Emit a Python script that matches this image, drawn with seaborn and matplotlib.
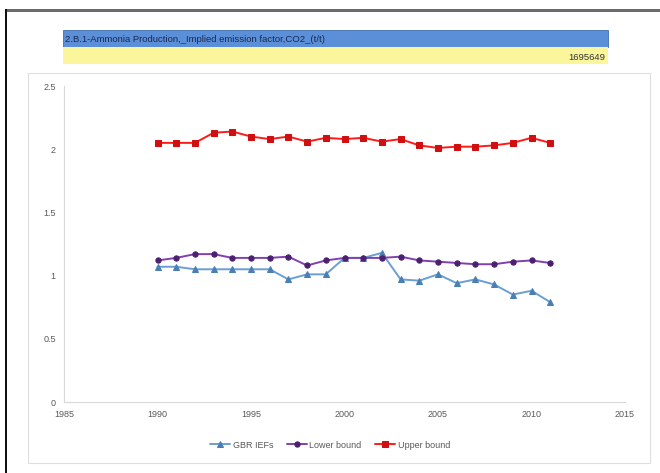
import matplotlib
matplotlib.use("Agg")
import matplotlib.pyplot as plt
from matplotlib.patches import Rectangle
import seaborn as sns
import pandas as pd

years = list(range(1990, 2012))
gbr_iefs = [1.07, 1.07, 1.05, 1.05, 1.05, 1.05, 1.05, 0.97, 1.01, 1.01, 1.14,
            1.14, 1.18, 0.97, 0.96, 1.01, 0.94, 0.97, 0.93, 0.85, 0.88, 0.79]
lower_bound = [1.12, 1.14, 1.17, 1.17, 1.14, 1.14, 1.14, 1.15, 1.08, 1.12, 1.14,
               1.14, 1.14, 1.15, 1.12, 1.11, 1.10, 1.09, 1.09, 1.11, 1.12, 1.10]
upper_bound = [2.05, 2.05, 2.05, 2.13, 2.14, 2.10, 2.08, 2.10, 2.06, 2.09, 2.08,
               2.09, 2.06, 2.08, 2.03, 2.01, 2.02, 2.02, 2.03, 2.05, 2.09, 2.05]
series_names = ["GBR IEFs", "Lower bound", "Upper bound"]
x_ticks = [1985, 1990, 1995, 2000, 2005, 2010, 2015]
y_ticks = [0, 0.5, 1, 1.5, 2, 2.5]
y_tick_labels = ["0", "0.5", "1", "1.5", "2", "2.5"]
header_title = "2.B.1-Ammonia Production,_Implied emission factor,CO2_(t/t)"
header_value = "1695649"

df = pd.DataFrame({
    "year": years * 3,
    "value": gbr_iefs + lower_bound + upper_bound,
    "series": [series_names[0]] * len(years) + [series_names[1]] * len(years)
              + [series_names[2]] * len(years),
})

sns.set_theme(style="white")
plt.rcParams["font.family"] = ["Liberation Sans", "DejaVu Sans"]

W, H = 660, 473
fig = plt.figure(figsize=(W / 100, H / 100), dpi=100)
fig.patch.set_facecolor("white")


def px_rect(x0, y0, x1, y1, **kw):
    fig.patches.append(Rectangle((x0 / W, 1 - y1 / H), (x1 - x0) / W, (y1 - y0) / H,
                                 transform=fig.transFigure, figure=fig, **kw))


# window frame
px_rect(5, 9, W, 12, facecolor="#6b6b6b", edgecolor="none")
px_rect(5, 9, 7, H, facecolor="#111111", edgecolor="none")
# chart area border
px_rect(28, 73, 650, 463, facecolor="none", edgecolor="#dedede", linewidth=0.8)
# header cells
px_rect(63, 30, 608, 47, facecolor="#5b8fd8", edgecolor="#3f6fb0", linewidth=0.6)
px_rect(63, 47, 608, 64, facecolor="#fbf59c", edgecolor="none")
fig.text(65 / W, 1 - 39 / H, header_title, fontsize=6.8, color="#1a2a50",
         va="center", ha="left")
fig.text(605 / W, 1 - 57 / H, header_value, fontsize=6.8, color="#333333",
         va="center", ha="right")

ax = fig.add_axes([64 / W, 1 - 402 / H, (625 - 64) / W, (402 - 86) / H])

palette = {"GBR IEFs": "#6b9fd4", "Lower bound": "#8040b0", "Upper bound": "#ff1a1a"}
markers = {"GBR IEFs": "^", "Lower bound": "o", "Upper bound": "s"}
sns.lineplot(data=df, x="year", y="value", hue="series", style="series",
             palette=palette, markers=markers, dashes=False, linewidth=1.4,
             markersize=3.8, ax=ax)
mec = {"GBR IEFs": "#4a7fb5", "Lower bound": "#4a2070", "Upper bound": "#d01010"}
for line, name in zip(ax.get_lines(), series_names):
    line.set_markeredgecolor(mec[name])
    line.set_markerfacecolor(mec[name])

ax.set_xlim(1985, 2015)
ax.set_ylim(0, 2.5)
ax.set_xticks(x_ticks)
ax.set_xticklabels([str(t) for t in x_ticks])
ax.set_yticks(y_ticks)
ax.set_yticklabels(y_tick_labels)
ax.set_xlabel("")
ax.set_ylabel("")
ax.tick_params(axis="both", labelsize=6.5, colors="#595959", length=0, pad=6)
for side in ["top", "right"]:
    ax.spines[side].set_visible(False)
for side in ["left", "bottom"]:
    ax.spines[side].set_color("#d9d9d9")
    ax.spines[side].set_linewidth(0.8)

handles, labels = ax.get_legend_handles_labels()
ax.legend(handles, labels, loc="center", bbox_to_anchor=(330 / W, 1 - 445 / H),
          bbox_transform=fig.transFigure, ncol=3, frameon=False, fontsize=6.5,
          handlelength=2.2, columnspacing=1.5, handletextpad=0.3,
          labelcolor="#595959")
for line, name in zip(ax.get_legend().get_lines(), series_names):
    line.set_markeredgecolor(mec[name])
    line.set_markerfacecolor(mec[name])

fig.savefig("out.png", dpi=100, facecolor="white")
